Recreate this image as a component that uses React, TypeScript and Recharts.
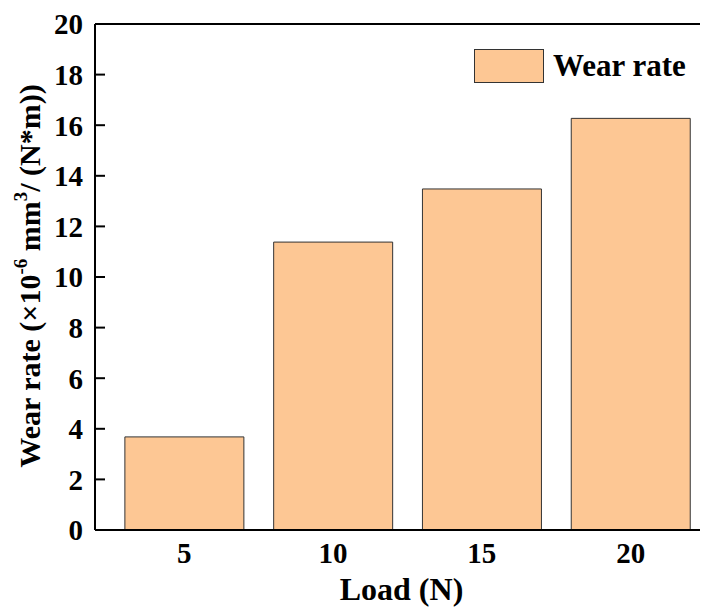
import React from "react";
import { BarChart, Bar, XAxis, YAxis, ReferenceLine, Label } from "recharts";

const loads = [5, 10, 15, 20];
const wearRate = [3.68, 11.38, 13.48, 16.27];
const yTicks = [0, 2, 4, 6, 8, 10, 12, 14, 16, 18, 20];

const data = loads.map((load, i) => ({ load, wear: wearRate[i] }));

const FONT = "'Liberation Serif', 'Times New Roman', serif";
const BAR_FILL = "#FDC794";

// left axis: label outside, tick mark pointing into the plot
const YTick = ({ x, y, payload }: { x: number; y: number; payload: { value: number } }) => (
  <g>
    <line x1={x + 12} x2={x + 22} y1={y} y2={y} stroke="#000" strokeWidth={2} />
    <text x={x} y={y} dy="0.36em" textAnchor="end" fontFamily={FONT} fontWeight="bold" fontSize={29} fill="#000">
      {payload.value}
    </text>
  </g>
);

const YTitle = () => (
  <text
    x={25}
    y={268}
    transform="rotate(-90, 25, 268)"
    textAnchor="middle"
    dominantBaseline="middle"
    fontFamily={FONT}
    fontWeight="bold"
    fontSize={30}
    fill="#000"
  >
    Wear rate (×10
    <tspan baselineShift="super" fontSize={19}>-6</tspan>
    <tspan> mm</tspan>
    <tspan baselineShift="super" fontSize={19}>3</tspan>
    <tspan>/ (N*m))</tspan>
  </text>
);

export default function App() {
  return (
    <div style={{ position: "relative", width: 700, height: 600 }}>
      <BarChart width={700} height={600} data={data} margin={{ top: 16, right: 0, bottom: 0, left: 0 }}>
        <XAxis
          dataKey="load"
          type="number"
          domain={[2, 22.6]}
          ticks={loads}
          allowDataOverflow
          tickLine={false}
          tickSize={0}
          tickMargin={12}
          height={78}
          axisLine={{ stroke: "#000", strokeWidth: 2 }}
          tick={{ fill: "#000", fontFamily: FONT, fontWeight: "bold", fontSize: 29 }}
        >
          <Label
            value="Load (N)"
            position="insideBottom"
            offset={8}
            style={{ fill: "#000", fontFamily: FONT, fontWeight: "bold", fontSize: 32 }}
          />
        </XAxis>
        <YAxis
          type="number"
          domain={[0, 20]}
          ticks={yTicks}
          width={87}
          tickLine={false}
          tickSize={0}
          tickMargin={12}
          axisLine={{ stroke: "#000", strokeWidth: 2 }}
          tick={YTick}
          label={<YTitle />}
        />
        <ReferenceLine y={20} stroke="#000" strokeWidth={2} />
        <Bar dataKey="wear" name="Wear rate" fill={BAR_FILL} stroke="#333" strokeWidth={1} barSize={119} isAnimationActive={false} />
      </BarChart>
      <div style={{ position: "absolute", left: 466, top: 41, display: "flex", alignItems: "center", fontFamily: FONT }}>
        <div style={{ width: 68, height: 32, background: BAR_FILL, border: "1px solid #333" }} />
        <span style={{ marginLeft: 9, fontWeight: "bold", fontSize: 31, color: "#000", lineHeight: "34px" }}>Wear rate</span>
      </div>
    </div>
  );
}
